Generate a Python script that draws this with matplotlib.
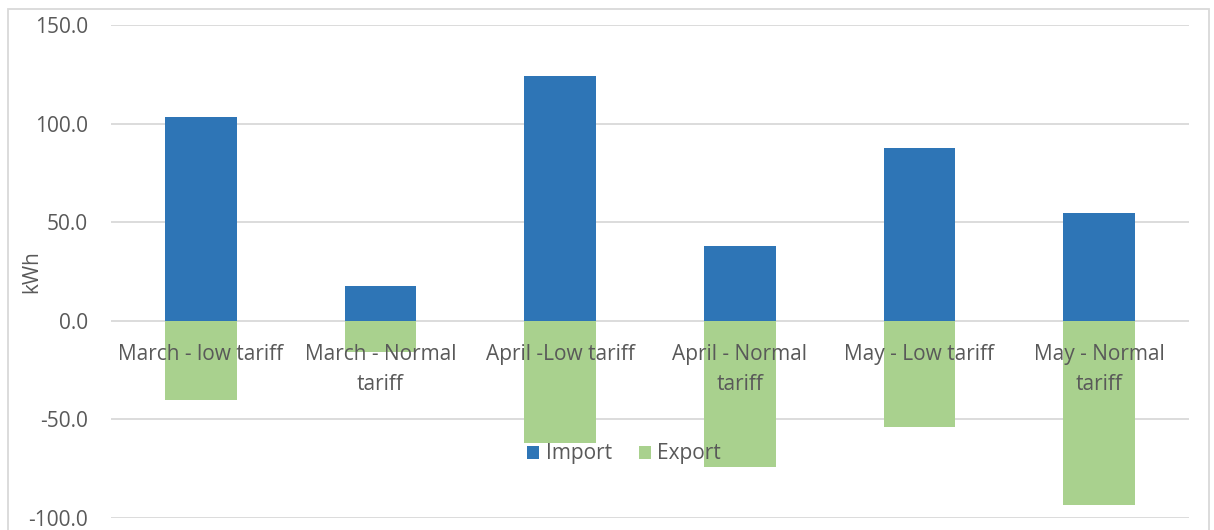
import numpy as np
import matplotlib.pyplot as plt
from matplotlib.patches import Rectangle
import matplotlib.transforms as mtransforms

# kWh per tariff period
categories = ["March - low tariff", "March - Normal\ntariff", "April -Low tariff",
              "April - Normal\ntariff", "May - Low tariff", "May - Normal\ntariff"]
import_kwh = [103.3, 17.6, 124.1, 37.9, 87.6, 54.7]
export_kwh = [-40.2, -15.8, -62.0, -74.1, -53.8, -93.2]
y_ticks = [-100, -50, 0, 50, 100, 150]

plt.rcParams['font.family'] = ['Open Sans', 'DejaVu Sans']
txt = '#595959'
fs = 15

fig = plt.figure(figsize=(12.14, 5.30), dpi=100)
ax = fig.add_axes([111/1214, 1-518/530, (1189-111)/1214, (518-25)/530])

x = np.arange(len(categories))
ax.bar(x, import_kwh, width=0.4, color='#2E75B6', label='Import', zorder=3)
ax.bar(x, export_kwh, width=0.4, color='#A9D18E', label='Export', zorder=3)

ax.set_xlim(-0.5, len(categories) - 0.5)
ax.set_ylim(-100, 150)
ax.set_yticks(y_ticks)
ax.set_yticklabels([f"{v:.1f}" for v in y_ticks], color=txt, fontsize=fs)
ax.tick_params(axis='y', length=0, pad=16.5)
ax.set_xticks([])
ax.yaxis.grid(True, color='#D9D9D9', linewidth=1.3, zorder=0)
for s in ax.spines.values():
    s.set_visible(False)
ax.set_ylabel('kWh', color=txt, fontsize=fs)
ax.yaxis.set_label_coords(-0.064, 0.5)

# category names sit just under the zero line
off = mtransforms.offset_copy(ax.transData, fig=fig, x=0, y=-23, units='dots')
for i, c in enumerate(categories):
    ax.text(i, 0, c, transform=off, ha='center', va='top', color=txt,
            fontsize=fs, linespacing=1.55, zorder=4)

leg = fig.legend(loc='center', bbox_to_anchor=(624/1214, 1-454/530), ncol=2,
                 frameon=False, fontsize=fs, handlelength=0.6, handleheight=0.6,
                 columnspacing=1.3, handletextpad=0.3)
for t in leg.get_texts():
    t.set_color(txt)

fig.patches.append(Rectangle((8/1214, -0.01), (1209-8)/1214, 1-9/530+0.01,
                             transform=fig.transFigure, fill=False,
                             edgecolor='#D9D9D9', linewidth=1.3))

fig.savefig('out.png', dpi=100)
